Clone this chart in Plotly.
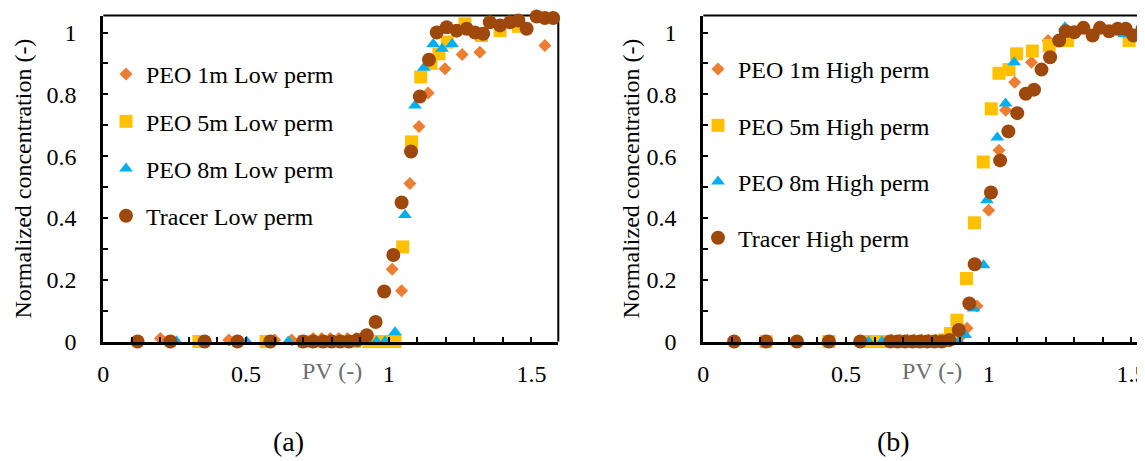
import plotly.graph_objects as go

# ---------------- Panel (a): Low perm ----------------
low_peo1m_x = [0.20, 0.44, 0.60, 0.66, 0.735, 0.765, 0.795, 0.825, 0.855, 0.885, 0.91,
               1.012, 1.045, 1.074, 1.106, 1.138, 1.197, 1.257, 1.319, 1.547]
low_peo1m_y = [0.01, 0.005, 0.005, 0.005, 0.01, 0.01, 0.01, 0.01, 0.01, 0.01, 0.01,
               0.234, 0.164, 0.511, 0.696, 0.804, 0.883, 0.929, 0.936, 0.958]

low_peo5m_x = [0.335, 0.57, 0.705, 0.74, 0.775, 0.81, 0.845, 0.88, 0.93, 0.96, 0.99,
               1.022, 1.049, 1.08, 1.112, 1.148, 1.176, 1.205, 1.267, 1.325, 1.39, 1.454]
low_peo5m_y = [0.0, 0.0, 0.0, 0.0, 0.0, 0.0, 0.0, 0.0, 0.0, 0.0, 0.0,
               0.0, 0.306, 0.646, 0.856, 0.90, 0.931, 0.969, 1.028, 0.99, 1.006, 1.02]

low_peo8m_x = [0.257, 0.502, 0.648, 0.923, 0.957, 0.987, 1.022, 1.057, 1.092, 1.123,
               1.156, 1.187, 1.222]
low_peo8m_y = [0.0, 0.0, 0.0, 0.0, 0.0, 0.0, 0.03, 0.409, 0.764, 0.886,
               0.963, 0.947, 0.963]

low_tracer_x = [0.12, 0.235, 0.355, 0.47, 0.585, 0.70, 0.735, 0.77, 0.80, 0.83, 0.86,
                0.89, 0.923, 0.954, 0.984, 1.016, 1.045, 1.078, 1.109, 1.141, 1.168,
                1.203, 1.238, 1.273, 1.302, 1.331, 1.354, 1.39, 1.425, 1.454, 1.483,
                1.518, 1.547, 1.576]
low_tracer_y = [0.0, 0.0, 0.0, 0.0, 0.0, 0.0, 0.0, 0.0, 0.0, 0.0, 0.0,
                0.005, 0.02, 0.063, 0.162, 0.28, 0.45, 0.615, 0.793, 0.912, 1.0,
                1.017, 1.006, 1.012, 1.0, 0.996, 1.033, 1.023, 1.033, 1.039, 1.012,
                1.052, 1.047, 1.047]

# ---------------- Panel (b): High perm ----------------
high_peo1m_x = [0.66, 0.69, 0.715, 0.74, 0.765, 0.79, 0.815, 0.84, 0.865, 0.895,
                0.924, 0.959, 1.0, 1.036, 1.059, 1.091, 1.15, 1.208, 1.27]
high_peo1m_y = [0.005, 0.005, 0.005, 0.005, 0.005, 0.005, 0.005, 0.005, 0.005, 0.01,
                0.043, 0.115, 0.425, 0.619, 0.748, 0.839, 0.904, 0.974, 1.0]

high_peo5m_x = [0.22, 0.44, 0.585, 0.626, 0.67, 0.70, 0.73, 0.76, 0.79, 0.82, 0.845,
                0.866, 0.889, 0.922, 0.95, 0.981, 1.009, 1.036, 1.071, 1.098, 1.153,
                1.212, 1.276, 1.492]
high_peo5m_y = [0.0, 0.0, 0.0, 0.0, 0.0, 0.0, 0.0, 0.0, 0.0, 0.0, 0.005,
                0.026, 0.069, 0.204, 0.384, 0.581, 0.753, 0.868, 0.88, 0.931, 0.94,
                0.958, 0.974, 0.974]

high_peo8m_x = [0.579, 0.626, 0.895, 0.918, 0.947, 0.982, 0.994, 1.03, 1.059, 1.089,
                1.267, 1.475]
high_peo8m_y = [0.0, 0.0, 0.0, 0.021, 0.107, 0.247, 0.457, 0.66, 0.77, 0.904,
                1.017, 0.994]

high_tracer_x = [0.108, 0.22, 0.328, 0.44, 0.55, 0.655, 0.681, 0.707, 0.733, 0.759,
                 0.785, 0.81, 0.836, 0.862, 0.895, 0.932, 0.951, 1.008, 1.04, 1.069,
                 1.10, 1.13, 1.159, 1.185, 1.215, 1.247, 1.27, 1.30, 1.332, 1.364,
                 1.39, 1.422, 1.452, 1.48, 1.507, 1.539]
high_tracer_y = [0.0, 0.0, 0.0, 0.0, 0.0, 0.0, 0.0, 0.0, 0.0, 0.0,
                 0.0, 0.0, 0.0, 0.005, 0.037, 0.123, 0.25, 0.482, 0.586, 0.68,
                 0.739, 0.802, 0.815, 0.88, 0.92, 0.974, 1.004, 1.001, 1.015, 0.99,
                 1.015, 1.004, 1.012, 1.012, 0.99, 1.012]

names_a = ["PEO 1m Low perm", "PEO 5m Low perm", "PEO 8m Low perm", "Tracer Low perm"]
names_b = ["PEO 1m High perm", "PEO 5m High perm", "PEO 8m High perm", "Tracer High perm"]
panel_labels = ["(a)", "(b)"]
y_title = "Normalized concentration (-)"
x_title = "PV (-)"

# ---------------- styling ----------------
FONT = "Liberation Serif"
OFF = 8                      # page body margin of the html page
W, H = 1145 - OFF, 461 - OFF
symbols = ["diamond", "square", "triangle-up", "circle"]
sizes = [10, 13, 12, 14]
colors = ["#ED7D31", "#FFC000", "#00B0F0", "#9E480E"]


def px_x(p):
    return (p - OFF) / W


def px_y(p):
    return 1 - (p - OFF) / H


fig = go.Figure()

data_a = [(low_peo1m_x, low_peo1m_y), (low_peo5m_x, low_peo5m_y),
          (low_peo8m_x, low_peo8m_y), (low_tracer_x, low_tracer_y)]
data_b = [(high_peo1m_x, high_peo1m_y), (high_peo5m_x, high_peo5m_y),
          (high_peo8m_x, high_peo8m_y), (high_tracer_x, high_tracer_y)]

for i, (xs, ys) in enumerate(data_a):
    fig.add_trace(go.Scatter(x=xs, y=ys, mode="markers", name=names_a[i],
                             marker=dict(symbol=symbols[i], size=sizes[i], color=colors[i], line=dict(width=0)),
                             xaxis="x", yaxis="y", legend="legend", legendgroup="a%d" % i,
                             cliponaxis=False))
for i, (xs, ys) in enumerate(data_b):
    fig.add_trace(go.Scatter(x=xs, y=ys, mode="markers", name=names_b[i],
                             marker=dict(symbol=symbols[i], size=sizes[i], color=colors[i], line=dict(width=0)),
                             xaxis="x2", yaxis="y2", legend="legend2", legendgroup="b%d" % i,
                             cliponaxis=False))

# plot-area pixel geometry (reference pixels)
ax_left_a, ax_right_a = 103.3, 558.3
ax_left_b = 703.3
plot_top, plot_bottom = 15.5, 341.5

minor = dict(dtick=0.1, ticks="inside", ticklen=5, tickwidth=1.5, tickcolor="black")
common = dict(showline=True, linecolor="black", linewidth=3, ticks="inside", ticklen=5,
              tickwidth=1.5, tickcolor="black", showgrid=False, zeroline=False,
              tickfont=dict(family=FONT, size=24, color="black"), automargin=False,
              minor=minor)

ydom = [px_y(plot_bottom), px_y(plot_top)]
fig.update_layout(
    width=W, height=H,
    margin=dict(l=0, r=0, t=0, b=0),
    paper_bgcolor="white", plot_bgcolor="white",
    font=dict(family=FONT, color="black"),
    xaxis=dict(domain=[px_x(ax_left_a), px_x(ax_right_a)], range=[0, 1.594], tick0=0, dtick=0.5,
               anchor="y", ticklabelstandoff=9, **common),
    yaxis=dict(domain=ydom, range=[0, 1.055], tick0=0, dtick=0.2, anchor="x",
               ticklabelstandoff=19, **common),
    xaxis2=dict(domain=[px_x(ax_left_b), 1.0], range=[0, (1145 - ax_left_b) / 285.4], tick0=0,
                dtick=0.5, anchor="y2", ticklabelstandoff=9, ticklabeloverflow="allow", **common),
    yaxis2=dict(domain=ydom, range=[0, 1.055], tick0=0, dtick=0.2, anchor="x2",
                ticklabelstandoff=19, **common),
    legend=dict(x=px_x(106), y=px_y(52), xanchor="left", yanchor="top",
                font=dict(family=FONT, size=24, color="black"), bgcolor="rgba(0,0,0,0)",
                traceorder="grouped", tracegroupgap=13),
    legend2=dict(x=px_x(698), y=px_y(47), xanchor="left", yanchor="top",
                 font=dict(family=FONT, size=24, color="black"), bgcolor="rgba(0,0,0,0)",
                 traceorder="grouped", tracegroupgap=22),
    showlegend=True,
)

# frame lines (top/right)
fig.add_shape(type="line", xref="x domain", yref="y domain", x0=0, x1=1, y0=1, y1=1,
              line=dict(color="black", width=2), layer="below")
fig.add_shape(type="line", xref="x domain", yref="y domain", x0=1, x1=1, y0=0, y1=1,
              line=dict(color="black", width=2), layer="below")
fig.add_shape(type="line", xref="x2 domain", yref="y2 domain", x0=0, x1=1, y0=1, y1=1,
              line=dict(color="black", width=2), layer="below")

# axis titles and panel labels
for xr, cx_px in [("x", 22), ("x2", 630)]:
    fig.add_annotation(text=y_title, xref="paper", yref="paper", x=px_x(cx_px),
                       y=px_y((plot_top + plot_bottom) / 2), textangle=-90, showarrow=False,
                       xanchor="center", yanchor="middle",
                       font=dict(family=FONT, size=24, color="black"))
    fig.add_annotation(text=x_title, xref=xr, yref="paper", x=0.8, y=px_y(371),
                       showarrow=False, xanchor="center", yanchor="middle",
                       font=dict(family=FONT, size=24, color="#6E6E6E"))
fig.add_annotation(text=panel_labels[0], xref="paper", yref="paper", x=px_x(288), y=px_y(441),
                   showarrow=False, xanchor="center", yanchor="middle",
                   font=dict(family=FONT, size=28, color="black"))
fig.add_annotation(text=panel_labels[1], xref="paper", yref="paper", x=px_x(893), y=px_y(441),
                   showarrow=False, xanchor="center", yanchor="middle",
                   font=dict(family=FONT, size=28, color="black"))

fig.write_html("out.html")
